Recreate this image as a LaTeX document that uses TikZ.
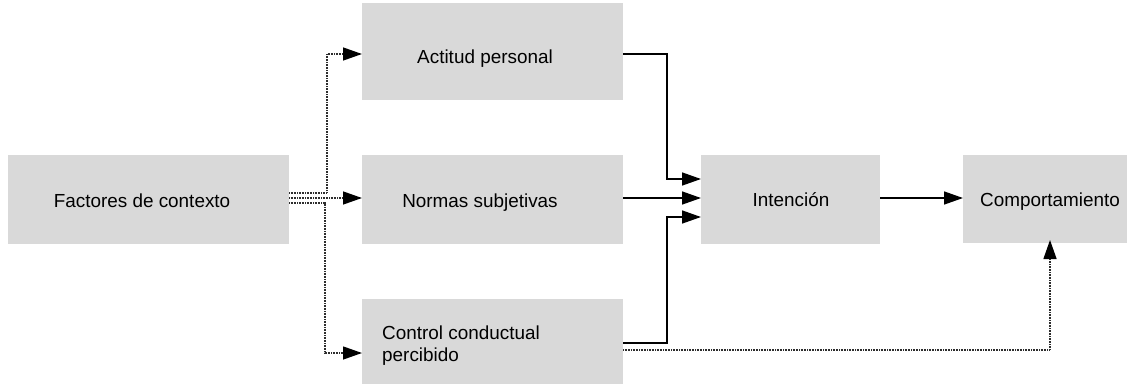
\documentclass[tikz,border=0pt]{standalone}
\usepackage{fontspec}
\setmainfont{Liberation Sans}
\usetikzlibrary{arrows.meta}
\definecolor{boxgray}{RGB}{217,217,217}
\definecolor{dotgray}{RGB}{45,45,45}
\tikzset{
  box/.style={fill=boxgray, draw=none, inner sep=0pt, outer sep=0pt},
  lbl/.style={font=\fontsize{18.9}{22.7}\selectfont, inner sep=0pt, anchor=base, text=black},
  tip/.style={-{Triangle[length=19pt,width=13pt,color=black]}},
  solidcon/.style={tip, line width=1.4pt, black},
  dotcon/.style={tip, line width=1.3pt, dotgray, dash pattern=on 1pt off 0.6pt},
}
\begin{document}
\begin{tikzpicture}[x=1pt,y=1pt]
\useasboundingbox (0,0) rectangle (1127,384);
% boxes
\node[box, minimum width=281pt, minimum height=89pt] (fact) at (148.5,184.5) {};
\node[box, minimum width=261pt, minimum height=97pt] (act) at (492.5,332.5) {};
\node[box, minimum width=261pt, minimum height=89pt] (norm) at (492.5,184.5) {};
\node[box, minimum width=261pt, minimum height=85pt] (ctrl) at (492.5,42.5) {};
\node[box, minimum width=179pt, minimum height=89pt] (int) at (790.5,184.5) {};
\node[box, minimum width=164pt, minimum height=88pt] (comp) at (1045,185) {};
% labels
\node[lbl] (tfact) at (142,176.3) {Factores de contexto};
\node[lbl] (tact) at (485,320.7) {Actitud personal};
\node[lbl] (tnorm) at (480,177) {Normas subjetivas};
\node[lbl] (tint) at (791,178) {Intención};
\node[lbl] (tcomp) at (1050,177.3) {Comportamiento};
\node[lbl, anchor=base west] (tctrl1) at (382,45) {Control conductual};
\node[lbl, anchor=base west] (tctrl2) at (382,22.3) {percibido};
% dotted connectors from context factors
\draw[dotcon] ([yshift=6.5pt]fact.east) -- ++(38,0) |- ([yshift=-2.5pt]act.west);
\draw[dotcon] ([yshift=1.5pt]fact.east) -- ([yshift=1.5pt]norm.west);
\draw[dotcon] ([yshift=-3.5pt]fact.east) -- ++(36,0) |- ([yshift=-11.5pt]ctrl.west);
% solid connectors to intention
\draw[solidcon] ([yshift=-2.5pt]act.east) -- ++(44,0) |- ([yshift=20.5pt]int.west);
\draw[solidcon] ([yshift=1.5pt]norm.east) -- ([yshift=1.5pt]int.west);
\draw[solidcon] ([yshift=-1.5pt]ctrl.east) -- ++(44,0) |- ([yshift=-17.5pt]int.west);
\draw[solidcon] ([yshift=1.5pt]int.east) -- ([yshift=1.5pt]int.east -| comp.west);
% dotted connector to behaviour
\draw[dotcon] ([yshift=-8.5pt]ctrl.east) -| ([xshift=5pt,yshift=3pt]comp.south);
\end{tikzpicture}
\end{document}
